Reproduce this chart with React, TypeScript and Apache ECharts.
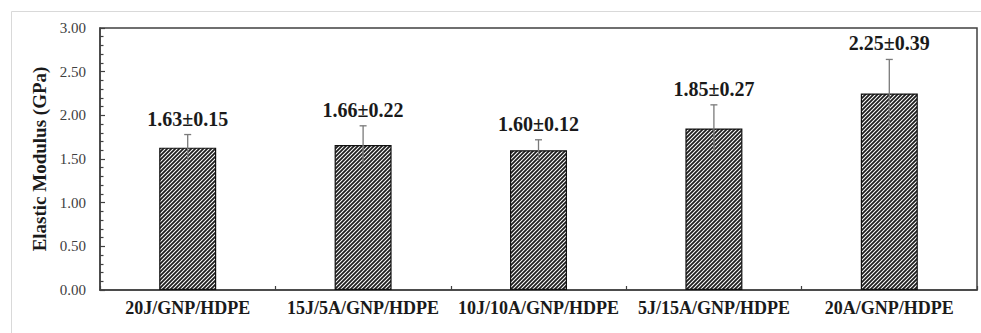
import React, { useEffect, useRef } from "react";
import * as echarts from "echarts";

// Elastic modulus of the hybrid filler composites (mean ± standard deviation, GPa)
const categories = [
  "20J/GNP/HDPE",
  "15J/5A/GNP/HDPE",
  "10J/10A/GNP/HDPE",
  "5J/15A/GNP/HDPE",
  "20A/GNP/HDPE",
];
const modulusMean = [1.63, 1.66, 1.6, 1.85, 2.25];
const modulusSd = [0.15, 0.22, 0.12, 0.27, 0.39];

const yMin = 0;
const yMax = 3;
const yStep = 0.5;

const SERIF = '"Liberation Serif", "Times New Roman", serif';

// Small tile of diagonal "/" strokes, repeated to fill the bars
function makeHatch(): HTMLCanvasElement {
  const s = 4;
  const c = document.createElement("canvas");
  c.width = s;
  c.height = s;
  const ctx = c.getContext("2d")!;
  ctx.fillStyle = "#ffffff";
  ctx.fillRect(0, 0, s, s);
  ctx.strokeStyle = "#1e1e1e";
  ctx.lineWidth = 1.8;
  ctx.beginPath();
  ctx.moveTo(-1, s + 1);
  ctx.lineTo(s + 1, -1);
  ctx.moveTo(-1, 1);
  ctx.lineTo(1, -1);
  ctx.moveTo(s - 1, s + 1);
  ctx.lineTo(s + 1, s - 1);
  ctx.stroke();
  return c;
}

export default function App() {
  const ref = useRef<HTMLDivElement>(null);

  useEffect(() => {
    document.body.style.margin = "0";
    if (!ref.current) return;
    const chart = echarts.init(ref.current, null, { renderer: "svg" });

    const errData = categories.map((_, i) => [i, modulusMean[i], modulusSd[i]]);

    chart.setOption({
      animation: false,
      backgroundColor: "#ffffff",
      graphic: [
        {
          type: "rect",
          silent: true,
          z: -10,
          shape: { x: 11.5, y: 11.5, width: 1000, height: 400 },
          style: { fill: "none", stroke: "#d9d9d9", lineWidth: 1 },
        },
      ],
      grid: {
        left: 100,
        right: 4,
        top: 28,
        bottom: 43,
        show: true,
        borderColor: "#404040",
        borderWidth: 1.5,
        backgroundColor: "transparent",
      },
      xAxis: {
        type: "category",
        data: categories,
        axisLine: { lineStyle: { color: "#404040", width: 1.5 } },
        axisTick: { show: true, inside: true, length: 4, lineStyle: { color: "#404040", width: 1.2 } },
        axisLabel: {
          margin: 9,
          fontFamily: SERIF,
          fontWeight: "bold",
          fontSize: 18,
          color: "#1a1a1a",
          interval: 0,
        },
        splitLine: { show: false },
      },
      yAxis: {
        type: "value",
        min: yMin,
        max: yMax,
        interval: yStep,
        name: "Elastic Modulus (GPa)",
        nameLocation: "middle",
        nameGap: 50,
        nameTextStyle: {
          fontFamily: SERIF,
          fontWeight: "bold",
          fontSize: 19,
          color: "#1a1a1a",
        },
        axisLine: { show: true, lineStyle: { color: "#404040", width: 1.5 } },
        axisTick: { show: true, inside: true, length: 5, lineStyle: { color: "#404040", width: 1.2 } },
        minorTick: { show: true, splitNumber: 5, length: 3.5, lineStyle: { color: "#404040", width: 1.2 } },
        axisLabel: {
          margin: 14,
          fontFamily: SERIF,
          fontSize: 15,
          color: "#404040",
          formatter: (v: number) => v.toFixed(2),
        },
        splitLine: { show: false },
      },
      series: [
        {
          type: "bar",
          data: modulusMean,
          barWidth: 57,
          itemStyle: {
            color: { image: makeHatch(), repeat: "repeat" },
            borderColor: "#111111",
            borderWidth: 1.2,
          },
          z: 2,
        },
        {
          type: "custom",
          data: errData,
          encode: { x: 0, y: 1 },
          z: 5,
          renderItem: (_params: any, api: any) => {
            const i = api.value(0);
            const mean = api.value(1);
            const sd = api.value(2);
            const top = api.coord([i, mean + sd]);
            const bot = api.coord([i, mean - sd]);
            const x = top[0];
            const stroke = { stroke: "#7a7a7a", lineWidth: 1.3 };
            return {
              type: "group",
              children: [
                { type: "line", shape: { x1: x, y1: top[1], x2: x, y2: bot[1] }, style: stroke },
                { type: "line", shape: { x1: x - 3.5, y1: top[1], x2: x + 3.5, y2: top[1] }, style: stroke },
                {
                  type: "text",
                  x,
                  y: top[1] - 6,
                  style: {
                    text: `${mean.toFixed(2)}±${sd.toFixed(2)}`,
                    textAlign: "center",
                    textVerticalAlign: "bottom",
                    align: "center",
                    verticalAlign: "bottom",
                    fontFamily: SERIF,
                    fontWeight: "bold",
                    fontSize: 20,
                    fill: "#1a1a1a",
                  },
                },
              ],
            };
          },
        },
      ],
    });

    return () => chart.dispose();
  }, []);

  return <div ref={ref} style={{ width: 981, height: 333 }} />;
}
